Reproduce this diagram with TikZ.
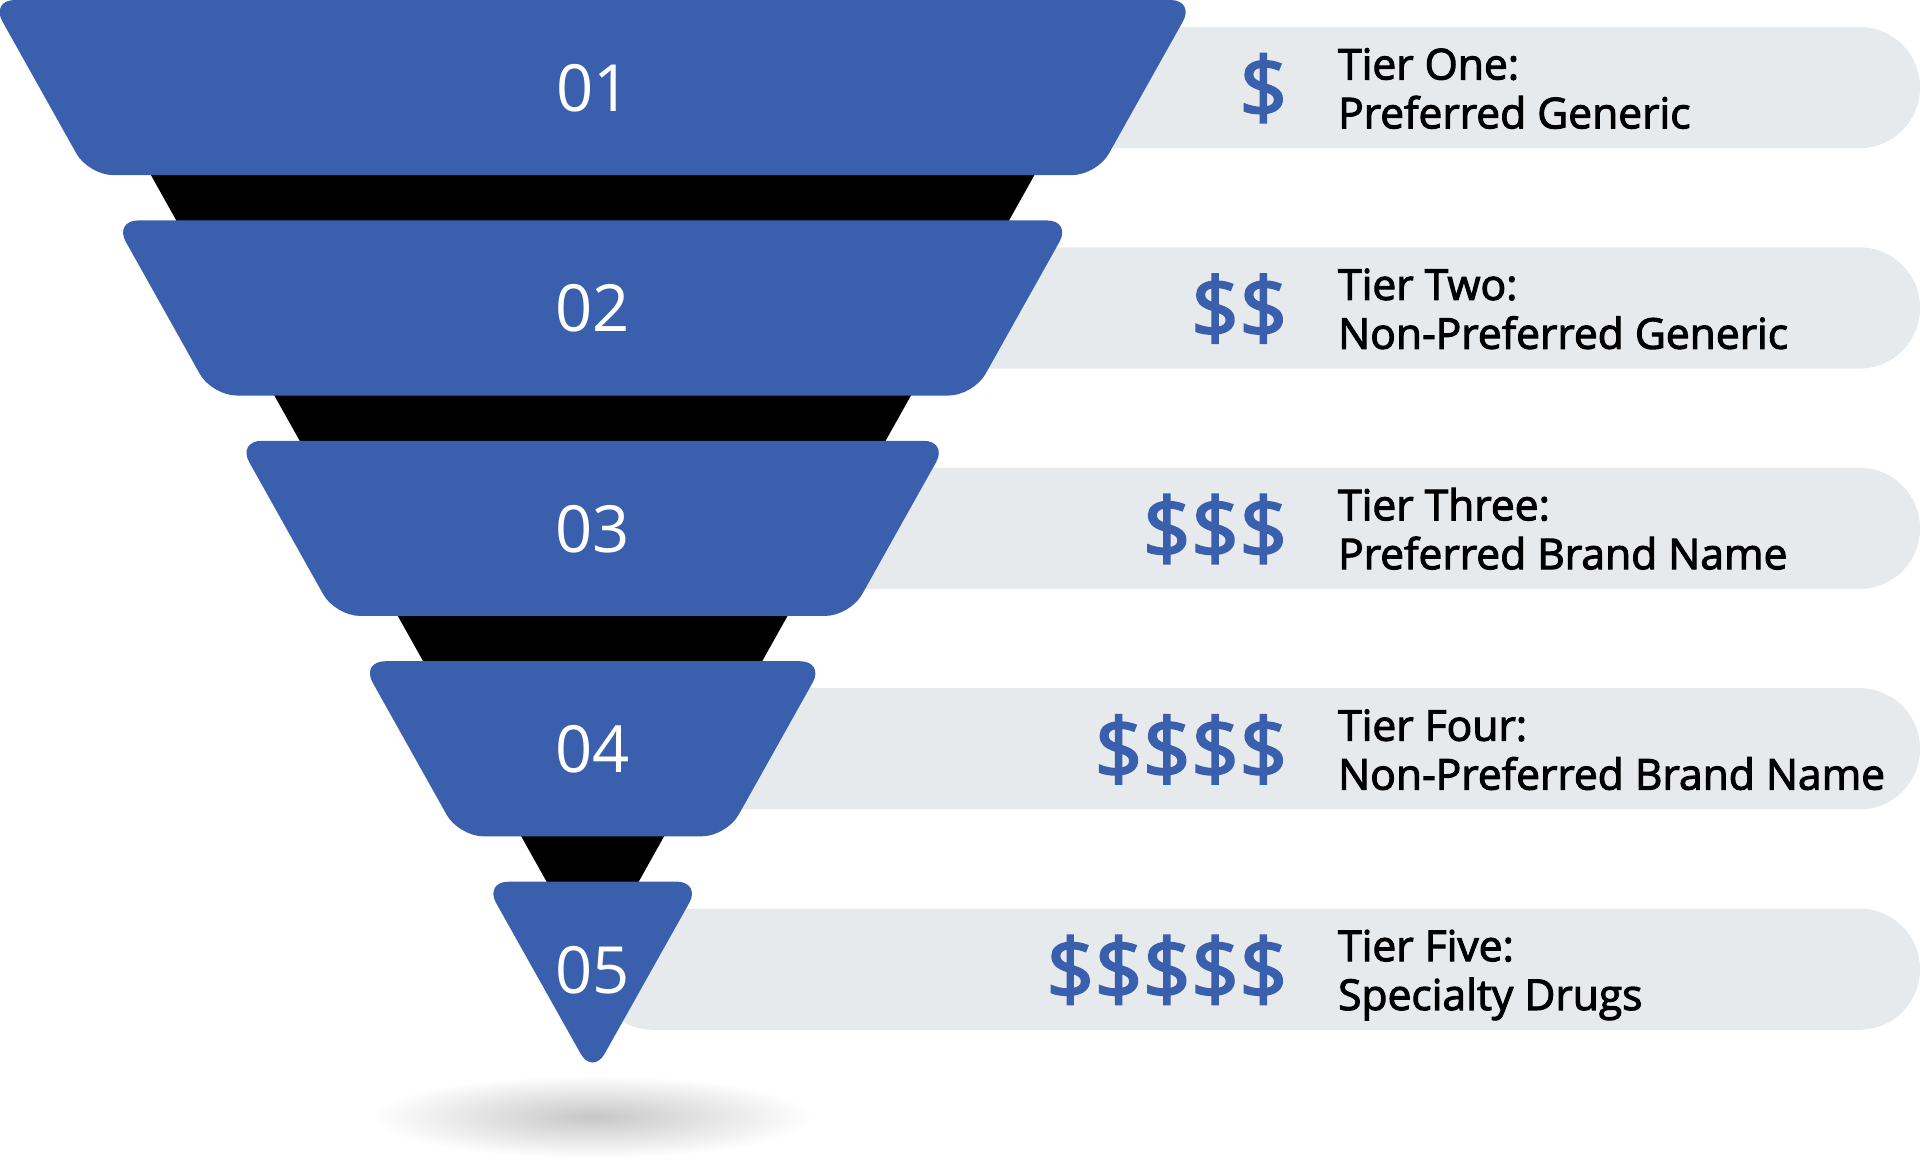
\documentclass[tikz,border=0pt]{standalone}
\usepackage{fontspec}
\setmainfont{Open Sans}
\newfontfamily\tierfont{Open Sans}[FakeBold=2.5]
\usetikzlibrary{positioning}

\definecolor{tierblue}{HTML}{3A5FAD}
\definecolor{pillgray}{HTML}{E7EAED}

\tikzset{
  band/.style={fill=tierblue, rounded corners=7pt},
  pill/.style={fill=pillgray, rounded corners=17.2pt},
  num/.style={text=white, inner sep=0pt, font=\fontsize{18.5}{20}\selectfont},
  cost/.style={text=tierblue, inner sep=0pt, anchor=east, font=\tierfont\fontsize{24}{26}\selectfont},
  tier/.style={text=black, inner sep=0pt, align=left, yshift=-1.7pt, font=\tierfont\fontsize{12.1}{13.9}\selectfont},
}

\begin{document}
\begin{tikzpicture}[x=0.012245cm, y=-0.012245cm, node distance=14pt]
    \useasboundingbox (0,0) rectangle (1568,954);
    % shadow under the tip
    \shade[inner color=black!22, outer color=white] (484,912) ellipse [x radius=180, y radius=34];
    % pills behind the funnel
    \fill[pill] (484,22)  rectangle (1568,121);
    \fill[pill] (484,202) rectangle (1568,301);
    \fill[pill] (484,382) rectangle (1568,481);
    \fill[pill] (484,562) rectangle (1568,661);
    \fill[pill] (484,742) rectangle (1568,841);
    % back of the funnel
    \fill[black] (115.96,130) -- (852.04,130) -- (484,787.2) -- cycle;
    % bands
    \fill[band] (-7.84,0)   -- (975.84,0)   -- (895.76,143) -- (72.24,143)  -- cycle;
    \fill[band] (92.96,180) -- (875.04,180) -- (794.96,323) -- (173.04,323) -- cycle;
    \fill[band] (193.76,360) -- (774.24,360) -- (694.16,503) -- (273.84,503) -- cycle;
    \fill[band] (294.56,540) -- (673.44,540) -- (593.36,683) -- (374.64,683) -- cycle;
    \fill[band] (395.36,720) -- (572.64,720) -- (484,878) -- cycle;

    \node[num] (n1) at (485,72)  {01};
    \node[num] (n2) at (484,252) {02};
    \node[num] (n3) at (484,432) {03};
    \node[num] (n4) at (484,612) {04};
    \node[num] (n5) at (484,792) {05};

    \node[cost] (c1) at (1052,72)  {\$};
    \node[cost] (c2) at (1052,252) {\$\$};
    \node[cost] (c3) at (1052,432) {\$\$\$};
    \node[cost] (c4) at (1052,612) {\$\$\$\$};
    \node[cost] (c5) at (1052,792) {\$\$\$\$\$};

    \node[tier, right=of c1] (t1) {Tier One:\strut\\Preferred Generic\strut};
    \node[tier, right=of c2] (t2) {Tier Two:\strut\\Non-Preferred Generic\strut};
    \node[tier, right=of c3] (t3) {Tier Three:\strut\\Preferred Brand Name\strut};
    \node[tier, right=of c4] (t4) {Tier Four:\strut\\Non-Preferred Brand Name\strut};
    \node[tier, right=of c5] (t5) {Tier Five:\strut\\Specialty Drugs\strut};
\end{tikzpicture}
\end{document}
